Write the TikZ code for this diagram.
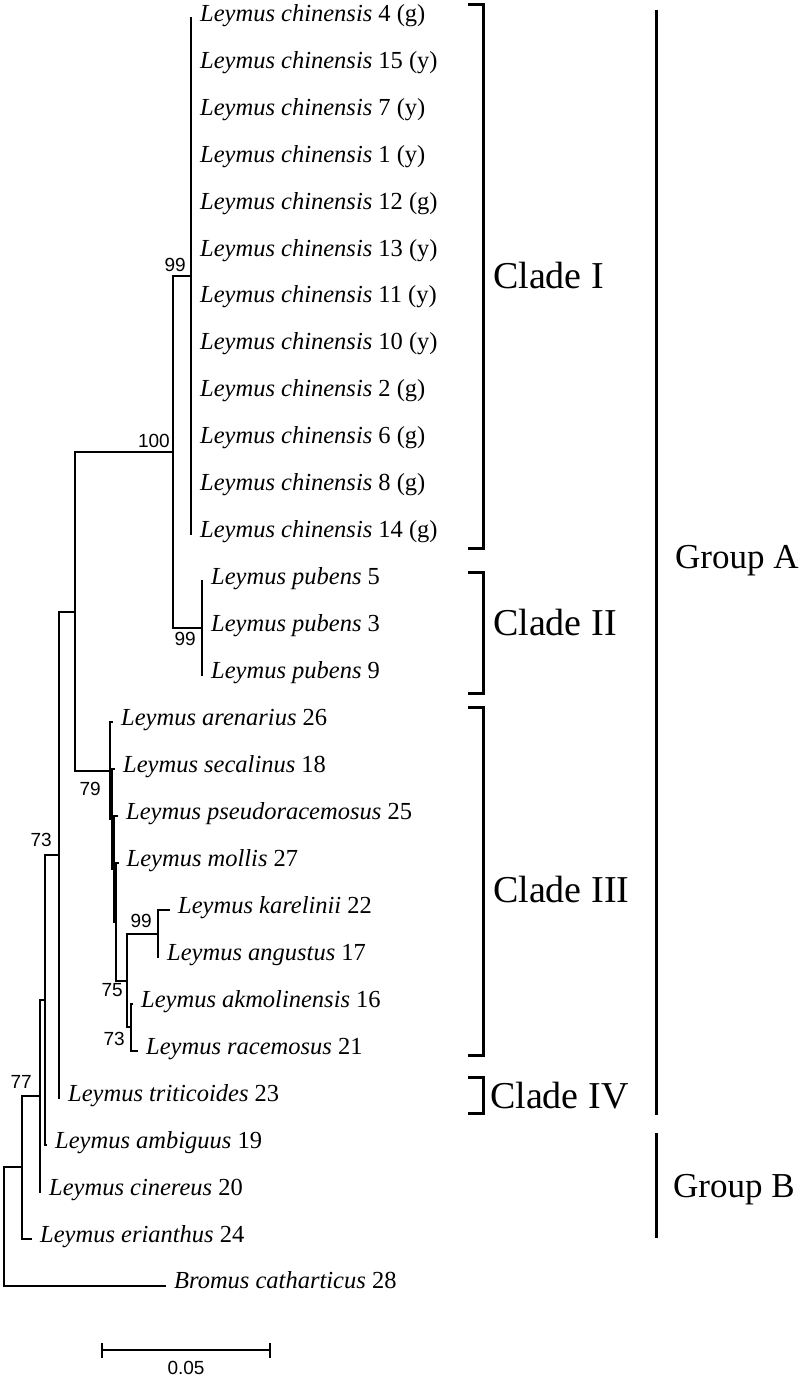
\documentclass[tikz,border=0pt]{standalone}
\usepackage{fontspec}
\setmainfont{Liberation Serif}
\setsansfont{Liberation Sans}
\tikzstyle{branch} = [line width=2pt]
\tikzstyle{leaf} = [anchor=mid west, inner sep=0pt, font=\fontsize{24.5}{28}\selectfont]
\tikzstyle{boot} = [inner sep=0pt, font=\sffamily\fontsize{19}{21}\selectfont]
\tikzstyle{bracket} = [line width=3pt]
\tikzstyle{clade} = [anchor=base west, inner sep=0pt, font=\fontsize{38}{44}\selectfont]
\tikzstyle{group} = [anchor=base west, inner sep=0pt, font=\fontsize{35}{40}\selectfont]

\begin{document}
\begin{tikzpicture}[x=1pt, y=-1pt]
	\useasboundingbox (0,0) rectangle (804,1380);

	% tips: name / x of tip / row / label
	\foreach \nm/\x/\k/\lab in {
		chi4/192/1/{\textit{Leymus chinensis} 4 (g)},
		chi15/192/2/{\textit{Leymus chinensis} 15 (y)},
		chi7/192/3/{\textit{Leymus chinensis} 7 (y)},
		chi1/192/4/{\textit{Leymus chinensis} 1 (y)},
		chi12/192/5/{\textit{Leymus chinensis} 12 (g)},
		chi13/192/6/{\textit{Leymus chinensis} 13 (y)},
		chi11/192/7/{\textit{Leymus chinensis} 11 (y)},
		chi10/192/8/{\textit{Leymus chinensis} 10 (y)},
		chi2/192/9/{\textit{Leymus chinensis} 2 (g)},
		chi6/192/10/{\textit{Leymus chinensis} 6 (g)},
		chi8/192/11/{\textit{Leymus chinensis} 8 (g)},
		chi14/192/12/{\textit{Leymus chinensis} 14 (g)},
		pub5/203/13/{\textit{Leymus pubens} 5},
		pub3/203/14/{\textit{Leymus pubens} 3},
		pub9/203/15/{\textit{Leymus pubens} 9},
		are26/113/16/{\textit{Leymus arenarius} 26},
		sec18/115/17/{\textit{Leymus secalinus} 18},
		pse25/118/18/{\textit{Leymus pseudoracemosus} 25},
		mol27/118.5/19/{\textit{Leymus mollis} 27},
		kar22/170/20/{\textit{Leymus karelinii} 22},
		ang17/159/21/{\textit{Leymus angustus} 17},
		akm16/133/22/{\textit{Leymus akmolinensis} 16},
		rac21/138/23/{\textit{Leymus racemosus} 21},
		tri23/60/24/{\textit{Leymus triticoides} 23},
		amb19/47/25/{\textit{Leymus ambiguus} 19},
		cin20/41/26/{\textit{Leymus cinereus} 20},
		eri24/32/27/{\textit{Leymus erianthus} 24},
		bro28/166/28/{\textit{Bromus catharticus} 28}}{
		\coordinate (\nm) at (\x,{18+46.95*(\k-1)});
		\node[leaf] (\nm-txt) at ([xshift=8pt, yshift=-1pt]\nm) {\lab};
	}

	% inner nodes
	\coordinate (chinensis) at (191,276.2);
	\coordinate (pubens) at (202,628.35);
	\coordinate (n100) at (173,452.3);
	\coordinate (karel) at (158,933.5);
	\coordinate (racem) at (131,1027.4);
	\coordinate (n75) at (127,980.5);
	\coordinate (mollis) at (116,921.8);
	\coordinate (pseudo) at (113.5,869);
	\coordinate (secal) at (111.5,819.1);
	\coordinate (n79) at (110,770.7);
	\coordinate (coreA) at (75,611.5);
	\coordinate (n73) at (59,854.7);
	\coordinate (ambig) at (45,999.8);
	\coordinate (n77) at (40,1095.8);
	\coordinate (erian) at (22,1167.2);
	\coordinate (root) at (4,1226.4);

	\foreach \a\b in {root/bro28, root/erian, erian/eri24, erian/n77, n77/cin20, n77/ambig,
		ambig/amb19, ambig/n73, n73/tri23, n73/coreA, coreA/n100, coreA/n79,
		n100/chinensis, n100/pubens,
		chinensis/chi4, chinensis/chi15, chinensis/chi7, chinensis/chi1, chinensis/chi12, chinensis/chi13,
		chinensis/chi11, chinensis/chi10, chinensis/chi2, chinensis/chi6, chinensis/chi8, chinensis/chi14,
		pubens/pub5, pubens/pub3, pubens/pub9,
		n79/are26, n79/secal, secal/sec18, secal/pseudo, pseudo/pse25, pseudo/mollis,
		mollis/mol27, mollis/n75, n75/karel, n75/racem, karel/kar22, karel/ang17,
		racem/akm16, racem/rac21}{
		\draw[branch] (\a) |- (\b);
	}

	% bootstrap values
	\node[boot, anchor=south east] (bs-chin) at ([xshift=-5pt, yshift=4pt]chinensis) {99};
	\node[boot, anchor=south east] (bs-100) at ([xshift=-3pt, yshift=4pt]n100) {100};
	\node[boot, anchor=north east] (bs-pub) at ([xshift=-6pt, yshift=-4pt]pubens) {99};
	\node[boot, anchor=north east] (bs-79) at ([xshift=-9pt, yshift=-11pt]n79) {79};
	\node[boot, anchor=south east] (bs-kar) at ([xshift=-6pt, yshift=5.5pt]karel) {99};
	\node[boot, anchor=north east] (bs-75) at ([xshift=-4pt, yshift=-2.5pt]n75) {75};
	\node[boot, anchor=north east] (bs-rac) at ([xshift=-6pt, yshift=-4.6pt]racem) {73};
	\node[boot, anchor=south east] (bs-73) at ([xshift=-7pt, yshift=7.7pt]n73) {73};
	\node[boot, anchor=south east] (bs-77) at ([xshift=-8pt, yshift=7pt]n77) {77};

	% clades and groups
	\foreach \top/\bot in {5/548, 572/693, 707/1055, 1077/1113}{
		\draw[bracket] (468,\top) -- (483,\top) -- (483,\bot) -- (468,\bot);
	}
	\node[clade] (cladeI) at (493,288) {Clade I};
	\node[clade] (cladeII) at (493,635) {Clade II};
	\node[clade] (cladeIII) at (493,902) {Clade III};
	\node[clade] (cladeIV) at (490,1108) {Clade IV};
	\draw[bracket] (656,10) -- (656,1115);
	\draw[bracket] (656,1133) -- (656,1238);
	\node[group] (groupA) at (675,568) {Group A};
	\node[group] (groupB) at (673,1197) {Group B};

	% scale bar
	\draw[branch] (102,1343) -- (102,1358) (102,1350) -- (270,1350) (270,1343) -- (270,1358);
	\node[boot, anchor=north] (scale) at (186,1361) {0.05};
\end{tikzpicture}
\end{document}
